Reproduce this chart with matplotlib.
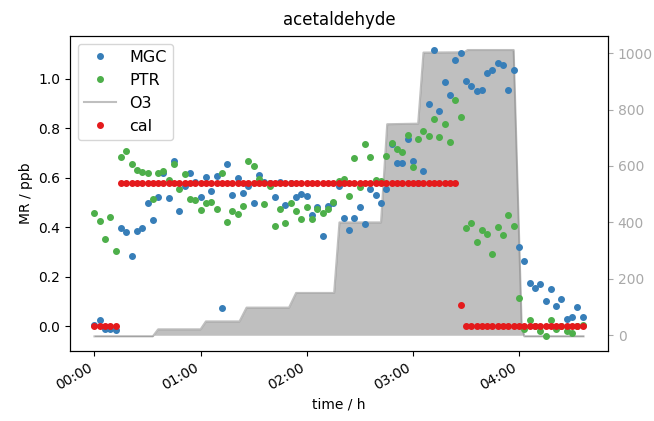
from datetime import datetime, timedelta

import matplotlib
matplotlib.use("Agg")
import matplotlib.pyplot as plt
import matplotlib.dates as mdates


# sample times in minutes after start (3 min grid)
MINUTES = [
    0, 3, 6, 9, 12, 15, 18, 21, 24, 27, 30, 33, 36, 39, 42, 45, 48, 51, 54, 57,
    60, 63, 66, 69, 72, 75, 78, 81, 84, 87, 90, 93, 96, 99, 102, 105, 108, 111, 114, 117,
    120, 123, 126, 129, 132, 135, 138, 141, 144, 147, 150, 153, 156, 159, 162, 165, 168, 171, 174, 177,
    180, 183, 186, 189, 192, 195, 198, 201, 204, 207, 210, 213, 216, 219, 222, 225, 228, 231, 234, 237,
    240, 243, 246, 249, 252, 255, 258, 261, 264, 267, 270, 273, 276,
]

MGC = [
    0.004, 0.024, -0.010, -0.010, -0.014, 0.396, 0.382, 0.284, 0.385, 0.396,
    0.497, 0.430, 0.524, 0.621, 0.518, 0.670, 0.467, 0.567, 0.619, 0.585,
    0.524, 0.605, 0.547, 0.608, 0.072, 0.655, 0.531, 0.599, 0.540, 0.569,
    0.497, 0.612, 0.585, 0.578, 0.521, 0.585, 0.490, 0.581, 0.524, 0.535,
    0.527, 0.450, 0.481, 0.365, 0.486, 0.497, 0.568, 0.439, 0.388, 0.439,
    0.482, 0.412, 0.554, 0.531, 0.500, 0.554, 0.736, 0.662, 0.662, 0.757,
    0.669, 0.578, 0.626, 0.898, 1.117, 0.871, 0.986, 0.935, 1.077, 1.104,
    0.993, 0.973, 0.953, 0.955, 1.024, 1.038, 1.065, 1.058, 0.957, 1.036,
    0.320, 0.262, 0.173, 0.155, 0.169, 0.101, 0.151, 0.081, 0.111, 0.030,
    0.038, 0.077, 0.038,
]

PTR = [
    0.457, 0.426, 0.351, 0.440, 0.305, 0.686, 0.707, 0.655, 0.630, 0.623,
    0.619, 0.513, 0.621, 0.626, 0.592, 0.655, 0.555, 0.615, 0.515, 0.511,
    0.470, 0.500, 0.503, 0.473, 0.619, 0.420, 0.467, 0.454, 0.486, 0.670,
    0.650, 0.594, 0.494, 0.567, 0.405, 0.473, 0.416, 0.497, 0.467, 0.432,
    0.481, 0.432, 0.473, 0.459, 0.473, 0.504, 0.588, 0.597, 0.527, 0.682,
    0.563, 0.736, 0.685, 0.590, 0.588, 0.689, 0.743, 0.716, 0.703, 0.774,
    0.644, 0.759, 0.790, 0.770, 0.840, 0.766, 0.817, 0.746, 0.916, 0.848,
    0.396, 0.416, 0.342, 0.388, 0.372, 0.293, 0.401, 0.370, 0.450, 0.405,
    0.113, -0.011, 0.027, 0.000, -0.018, -0.041, 0.024, -0.010, 0.003, -0.020,
    -0.027, 0.000, 0.007,
]

CAL = [0.0] * 5 + [0.58] * 64 + [0.086] + [0.0] * 23

# ozone, corner points of the step profile
O3_MINUTES = [0, 33, 36, 60, 63, 82, 86, 110, 114, 135.5, 138.5, 162, 165.5, 183, 186,
              209, 211, 237, 241.5, 243, 276.5]
O3 = [-4, -4, 21, 21, 49, 49, 98, 98, 150, 150, 400, 400, 748, 750, 1002,
      1003, 1011, 1011, 40, -4, -4]

BASE = datetime(2000, 1, 1)


def to_time(minutes):
    return [BASE + timedelta(minutes=float(m)) for m in minutes]


def main() -> None:
    t = to_time(MINUTES)
    t_o3 = to_time(O3_MINUTES)

    fig = plt.figure(figsize=(6.54, 4.21), dpi=100)
    ax = fig.add_axes([70 / 654, 1 - 350.7 / 421, 538 / 654, 315 / 421])
    ax2 = ax.twinx()
    ax.set_zorder(ax2.get_zorder() + 1)
    ax.patch.set_visible(False)

    (h_mgc,) = ax.plot(t, MGC, "o", color="#377eb8", markersize=4, label="MGC")
    (h_ptr,) = ax.plot(t, PTR, "o", color="#4daf4a", markersize=4, label="PTR")
    ax2.fill_between(t_o3, O3, color="gray", alpha=0.5, linewidth=0)
    (h_o3,) = ax2.plot(t_o3, O3, color="gray", alpha=0.5, label="O3")
    (h_cal,) = ax.plot(t, CAL, "o", color="#e41a1c", markersize=4, label="cal")

    ax2.tick_params(axis="y", colors="darkgray")
    ax2.spines["right"].set_color("black")

    ax.xaxis.set_major_locator(mdates.HourLocator())
    ax.xaxis.set_major_formatter(mdates.DateFormatter("%H:%M"))
    for lbl in ax.get_xticklabels():
        lbl.set_rotation(30)
        lbl.set_ha("right")

    ax.set_ylabel("MR / ppb")
    ax.set_xlabel("time / h")
    ax.set_title("acetaldehyde", pad=8)
    ax.legend([h_mgc, h_ptr, h_o3, h_cal], ["MGC", "PTR", "O3", "cal"],
              loc="upper left", fontsize=11.5)

    fig.savefig("out.png", dpi=100)
    plt.close(fig)


if __name__ == "__main__":
    main()
